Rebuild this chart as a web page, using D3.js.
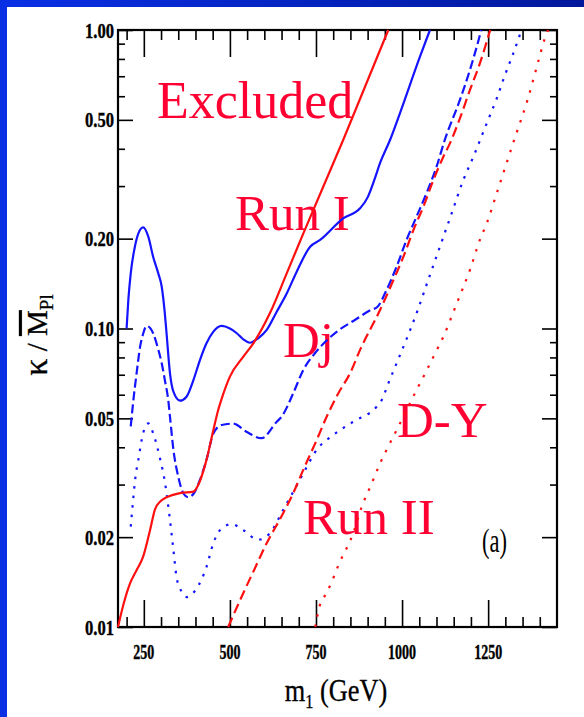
<!DOCTYPE html>
<html>
<head>
<meta charset="utf-8">
<script src="https://cdn.jsdelivr.net/npm/d3@7"></script>
<style>
html, body { margin: 0; padding: 0; background: #fff; }
svg { display: block; }
</style>
</head>
<body>
<svg class="svg" width="584" height="717"></svg>
<script>
// [m1 (GeV), k / Mpl]
const dyRunI = [[175, 0.010], [190, 0.0118], [210, 0.014], [229, 0.0155], [248, 0.0172], [268, 0.0211],
  [282, 0.0247], [300, 0.0265], [316, 0.0272], [355, 0.0281], [394, 0.0284], [408, 0.0299], [432, 0.0363],
  [452, 0.0457], [466, 0.0533], [480, 0.060], [500, 0.069], [539, 0.0805], [568, 0.0892], [616, 0.1124],
  [665, 0.153], [713, 0.208], [829, 0.428], [960, 1.0]];

const djRunI = [[200, 0.100], [205, 0.1246], [212, 0.153], [224, 0.188], [234, 0.208], [248, 0.218],
  [263, 0.203], [277, 0.174], [292, 0.153], [302, 0.138], [311, 0.1124], [316, 0.0964], [326, 0.0708],
  [336, 0.0614], [355, 0.0573], [374, 0.0591], [394, 0.0672], [413, 0.0784], [432, 0.0892], [452, 0.0976],
  [476, 0.102], [500, 0.100], [520, 0.0964], [539, 0.092], [558, 0.0896], [582, 0.0927], [607, 0.0989],
  [636, 0.1138], [665, 0.131], [694, 0.155], [733, 0.188], [762, 0.198], [829, 0.234], [878, 0.2527],
  [900, 0.275], [920, 0.316], [936, 0.358], [965, 0.428], [994, 0.527], [1052, 0.814], [1081, 1.0]];

const djRunII = [[212, 0.047], [220, 0.058], [229, 0.0708], [240, 0.088], [248, 0.096], [258, 0.102],
  [277, 0.0964], [292, 0.085], [302, 0.0765], [311, 0.0672], [321, 0.0575], [326, 0.0506], [336, 0.0392],
  [350, 0.0319], [365, 0.028], [379, 0.0272], [395, 0.028], [413, 0.0311], [432, 0.0363], [452, 0.0445],
  [476, 0.0475], [510, 0.048], [548, 0.0451], [592, 0.0429], [636, 0.0487], [650, 0.0506], [684, 0.0607],
  [713, 0.0726], [747, 0.0826], [780, 0.091], [820, 0.0994], [863, 0.1068], [909, 0.1153], [928, 0.118],
  [955, 0.1346], [984, 0.161], [1013, 0.198], [1042, 0.237], [1071, 0.284], [1100, 0.348], [1124, 0.428],
  [1168, 0.583], [1197, 0.734], [1221, 0.914], [1230, 1.0]];

const djRunIIb = [[212, 0.0217], [219, 0.0267], [226, 0.032], [234, 0.0363], [248, 0.0446], [263, 0.0481],
  [277, 0.0446], [297, 0.0367], [311, 0.0307], [326, 0.0228], [336, 0.0181], [345, 0.0147], [355, 0.0135],
  [374, 0.0126], [404, 0.0135], [432, 0.0159], [452, 0.0191], [471, 0.0211], [505, 0.0221], [539, 0.0211],
  [582, 0.0196], [616, 0.0206], [655, 0.0247], [679, 0.0277], [713, 0.0327], [752, 0.0392], [800, 0.044],
  [858, 0.0487], [926, 0.0547], [941, 0.0576], [960, 0.0655], [984, 0.0764], [1004, 0.0869], [1042, 0.1124],
  [1076, 0.1454], [1110, 0.188], [1144, 0.243], [1178, 0.3144], [1207, 0.376], [1246, 0.487], [1275, 0.59],
  [1299, 0.707], [1323, 0.835], [1347, 1.0]];

const dyRunII = [[495, 0.010], [539, 0.013], [570, 0.0155], [607, 0.0191], [650, 0.0235], [684, 0.0281],
  [713, 0.0336], [752, 0.0423], [781, 0.0506], [815, 0.0607], [849, 0.0708], [878, 0.0848], [936, 0.1153],
  [975, 0.1454], [1004, 0.174], [1033, 0.2138], [1062, 0.256], [1091, 0.3144], [1120, 0.3764], [1139, 0.417],
  [1168, 0.506], [1197, 0.629], [1226, 0.773], [1256, 1.0]];

const dyRunIIb = [[748, 0.010], [760, 0.0117], [777, 0.0128], [794, 0.014], [815, 0.0161], [858, 0.0206],
  [883, 0.0253], [912, 0.0303], [936, 0.0353], [965, 0.0413], [994, 0.0481], [1023, 0.0562], [1042, 0.0622],
  [1072, 0.0726], [1096, 0.0826], [1120, 0.0939], [1159, 0.1215], [1197, 0.157], [1226, 0.198], [1246, 0.225],
  [1275, 0.284], [1331, 0.447], [1365, 0.586], [1394, 0.773], [1413, 0.925], [1424, 1.0]];

const xMajor = [250, 500, 750, 1000, 1250];
const xMinor = [200, 300, 350, 400, 450, 550, 600, 650, 700, 800, 850, 900, 950, 1050, 1100, 1150, 1200, 1300, 1350, 1400];
const yMajor = [0.01, 0.02, 0.05, 0.1, 0.2, 0.5, 1];
const yMinor = [0.03, 0.04, 0.06, 0.07, 0.08, 0.09, 0.3, 0.4, 0.6, 0.7, 0.8, 0.9];

const svg = d3.select('.svg');
const x = d3.scaleLinear().domain([175, 1450]).range([118, 557]);
const y = d3.scaleLog().domain([0.01, 1]).range([627, 30]);

// blue slide background
const grad = svg.append('defs').append('linearGradient').attr('id', 'bg');
grad.append('stop').attr('offset', '0%').attr('stop-color', '#0a30e6');
grad.append('stop').attr('offset', '100%').attr('stop-color', '#00189c');
svg.append('rect').attr('width', 584).attr('height', 717).style('fill', 'url(#bg)');
svg.append('rect').attr('x', 7).attr('y', 7).attr('width', 577).attr('height', 710).style('fill', '#fff');

function ticks(axis, transform, size, values) {
  const g = svg.append('g').attr('transform', transform)
    .call(axis.tickValues(values).tickSize(size).tickFormat(''));
  g.select('.domain').remove();
  g.selectAll('line').style('stroke', '#000').style('stroke-width', 1.6);
}

ticks(d3.axisBottom(x), 'translate(0,627)', -27, xMajor);
ticks(d3.axisBottom(x), 'translate(0,627)', -10, xMinor);
ticks(d3.axisTop(x), 'translate(0,30)', -27, xMajor);
ticks(d3.axisTop(x), 'translate(0,30)', -10, xMinor);
ticks(d3.axisLeft(y), 'translate(118,0)', -15, yMajor);
ticks(d3.axisLeft(y), 'translate(118,0)', -7, yMinor);
ticks(d3.axisRight(y), 'translate(557,0)', -15, yMajor);
ticks(d3.axisRight(y), 'translate(557,0)', -7, yMinor);

// tick labels
svg.append('g').selectAll('text').data(xMajor).join('text')
  .attr('x', d => x(d)).attr('y', 659)
  .attr('text-anchor', 'middle')
  .attr('textLength', d => String(d).length * 7).attr('lengthAdjust', 'spacingAndGlyphs')
  .style('font-family', 'Liberation Serif').style('font-weight', 'bold').style('font-size', '22px')
  .style('stroke', '#000').style('stroke-width', 0.4)
  .text(d => d);

svg.append('g').selectAll('text').data(yMajor).join('text')
  .attr('x', 114).attr('y', d => y(d) + 7.5)
  .attr('text-anchor', 'end')
  .attr('textLength', 29).attr('lengthAdjust', 'spacingAndGlyphs')
  .style('font-family', 'Liberation Serif').style('font-weight', 'bold').style('font-size', '22px')
  .style('stroke', '#000').style('stroke-width', 0.4)
  .text(d => d3.format('.2f')(d));

// frame
svg.append('rect').attr('x', 118).attr('y', 30).attr('width', 439).attr('height', 597)
  .style('fill', 'none').style('stroke', '#000').style('stroke-width', 2.2);

// axis titles
const xt = svg.append('text').attr('transform', 'translate(336,701) scale(0.85,1)')
  .attr('text-anchor', 'middle')
  .style('font-family', 'Liberation Serif').style('font-size', '31px').style('fill', '#000')
  .style('stroke', '#000').style('stroke-width', 0.3);
xt.append('tspan').text('m');
xt.append('tspan').attr('dy', 7).style('font-size', '19px').text('1');
xt.append('tspan').attr('dy', -7).text(' (GeV)');

const yt = svg.append('text').attr('transform', 'translate(47,335) rotate(-90)')
  .attr('text-anchor', 'middle')
  .style('font-family', 'Liberation Serif').style('font-size', '29px').style('fill', '#000')
  .style('stroke', '#000').style('stroke-width', 0.3);
yt.append('tspan').style('font-size', '34px').text('κ');
yt.append('tspan').text(' / ');
yt.append('tspan').style('text-decoration', 'overline').text('M');
yt.append('tspan').attr('dy', 6).style('font-size', '19px').text('Pl');

// labels in the plot
function label(txt, px, py, size, color) {
  svg.append('text').attr('x', px).attr('y', py)
    .style('font-family', 'Liberation Serif').style('font-size', size + 'px').style('fill', color)
    .text(txt);
}
label('Excluded', 157, 118, 52, '#ff0033');
label('Run I', 235, 230, 51, '#ff0033');
label('Dj', 283, 357, 51, '#ff0033');
label('D-Y', 397, 437, 51, '#ff0033');
label('Run II', 303, 534, 51, '#ff0033');
svg.append('text').attr('x', 482).attr('y', 552)
  .attr('textLength', 25).attr('lengthAdjust', 'spacingAndGlyphs')
  .style('font-family', 'Liberation Serif').style('font-size', '34px').style('fill', '#000')
  .text('(a)');

// curves
const line = d3.line().x(d => x(d[0])).y(d => y(d[1])).curve(d3.curveMonotoneX);

function curve(data, color, dash) {
  svg.append('path').datum(data)
    .attr('d', line)
    .style('fill', 'none')
    .style('stroke', color)
    .style('stroke-width', 2.2)
    .style('stroke-dasharray', dash);
}
curve(djRunI, '#1414ff', null);
curve(djRunII, '#1414ff', '9,4');
curve(djRunIIb, '#1414ff', '2.5,7');
curve(dyRunI, '#ff1010', null);
curve(dyRunII, '#ff1010', '10,5');
curve(dyRunIIb, '#ff1010', '2.5,8');
</script>
</body>
</html>
